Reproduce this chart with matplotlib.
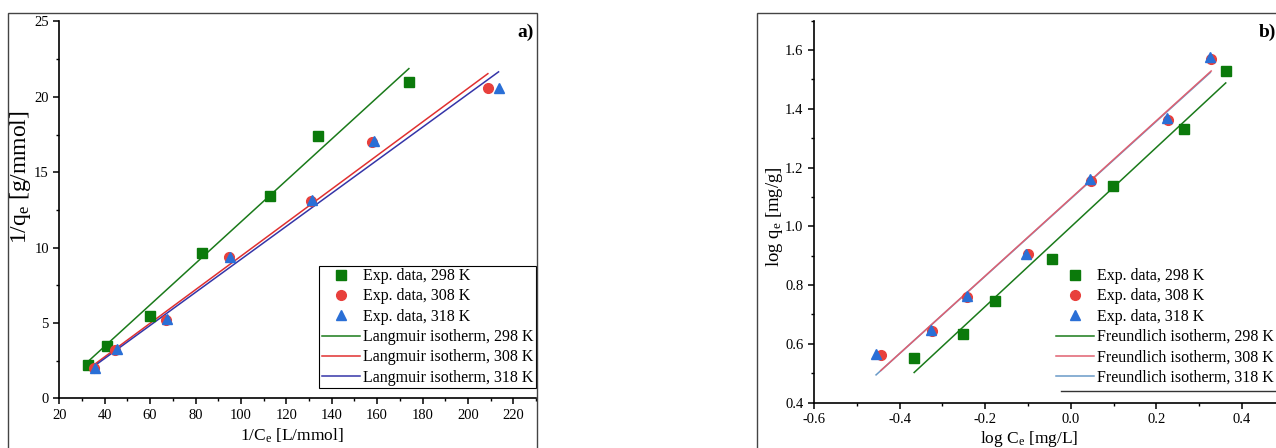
import matplotlib
matplotlib.use('Agg')
import matplotlib.pyplot as plt
import numpy as np
from matplotlib.patches import Rectangle
from matplotlib.ticker import MultipleLocator

plt.rcParams['font.family'] = ['Liberation Serif', 'DejaVu Serif']
plt.rcParams['mathtext.fontset'] = 'custom'
plt.rcParams['mathtext.rm'] = 'Liberation Serif'
plt.rcParams['mathtext.it'] = 'Liberation Serif'

temps = ['298 K', '308 K', '318 K']

# a) Langmuir: 1/Ce vs 1/qe
inv_ce_298 = [32.7, 40.9, 60.0, 83.0, 112.8, 133.8, 174.0]
inv_qe_298 = [2.21, 3.45, 5.44, 9.66, 13.44, 17.42, 20.98]
inv_ce_308 = [35.5, 44.7, 67.0, 94.7, 130.9, 157.7, 208.8]
inv_qe_308 = [1.99, 3.23, 5.19, 9.35, 13.10, 17.00, 20.56]
inv_ce_318 = [35.8, 45.2, 67.3, 95.0, 131.2, 158.8, 213.5]
inv_qe_318 = [2.00, 3.25, 5.25, 9.40, 13.15, 17.05, 20.60]
lang_slope = [0.1375, 0.1113, 0.1096]
lang_icept = [-2.05, -1.70, -1.74]

# b) Freundlich: log Ce vs log qe
log_ce_298 = [-0.366, -0.252, -0.178, -0.044, 0.098, 0.265, 0.362]
log_qe_298 = [0.552, 0.634, 0.745, 0.889, 1.137, 1.332, 1.528]
log_ce_308 = [-0.444, -0.324, -0.243, -0.100, 0.047, 0.228, 0.328]
log_qe_308 = [0.563, 0.644, 0.760, 0.905, 1.156, 1.363, 1.569]
log_ce_318 = [-0.455, -0.327, -0.243, -0.104, 0.045, 0.224, 0.326]
log_qe_318 = [0.567, 0.646, 0.762, 0.907, 1.162, 1.369, 1.578]
freu_slope = [1.354, 1.321, 1.318]
freu_icept = [0.998, 1.0955, 1.094]

mk_colors = ['#0b7a0b', '#e8403c', '#2a6fd6']
markers = ['s', 'o', '^']
mk_sizes = [6.5, 7, 7.5]
lang_colors = ['#1a7a1a', '#e03030', '#3535a8']
freu_colors = ['#1a7a1a', '#e06070', '#6a9ac8']

fig = plt.figure(figsize=(12.76, 4.48), dpi=100)
W, H = 1276, 448

# outer frames
fig.patches.append(Rectangle((7.5 / W, -0.1), (536.5 - 7.5) / W, 1.1 - 13.5 / H,
                             transform=fig.transFigure, fill=False,
                             edgecolor='#444444', linewidth=1.0))
fig.patches.append(Rectangle((756.5 / W, -0.1), 0.5, 1.1 - 13.5 / H,
                             transform=fig.transFigure, fill=False,
                             edgecolor='#444444', linewidth=1.0))

ax1 = fig.add_axes([59.3 / W, (H - 398.3) / H, (536 - 59.3) / W, (398.3 - 21.5) / H])
ax2 = fig.add_axes([814 / W, (H - 402.6) / H, (1276 - 814) / W, (402.6 - 20.7) / H])


def style(ax):
    for s in ['top', 'right']:
        ax.spines[s].set_visible(False)
    for s in ['left', 'bottom']:
        ax.spines[s].set_linewidth(1.2)
    ax.tick_params(which='major', direction='out', length=4.5, width=1.1,
                   labelsize=10.5, pad=3)
    ax.tick_params(which='minor', direction='out', length=2.5, width=1.0)


# panel a
xs1 = [inv_ce_298, inv_ce_308, inv_ce_318]
ys1 = [inv_qe_298, inv_qe_308, inv_qe_318]
for i in range(3):
    ax1.plot(xs1[i], ys1[i], linestyle='none', marker=markers[i], ms=mk_sizes[i],
             color=mk_colors[i], label='Exp. data, ' + temps[i], zorder=3)
for i in range(3):
    xx = np.array([min(xs1[i]), max(xs1[i])])
    ax1.plot(xx, lang_slope[i] * xx + lang_icept[i], color=lang_colors[i], lw=1.1,
             label='Langmuir isotherm, ' + temps[i], zorder=2)
ax1.set_xlim(20, 230)
ax1.set_ylim(0, 25)
ax1.xaxis.set_major_locator(MultipleLocator(20))
ax1.xaxis.set_minor_locator(MultipleLocator(10))
ax1.yaxis.set_major_locator(MultipleLocator(5))
ax1.yaxis.set_minor_locator(MultipleLocator(2.5))
style(ax1)
ax1.set_xlabel(r'1/C$_{\mathrm{e}}$ [L/mmol]', fontsize=12.5)
ax1.set_ylabel(r'1/q$_{\mathrm{e}}$ [g/mmol]', fontsize=17)
ax1.xaxis.set_label_coords(0.488, -0.075)
ax1.yaxis.set_label_coords(-0.055, 0.587)
ax1.text(0.995, 0.972, 'a)', transform=ax1.transAxes, ha='right', va='center',
         fontsize=14, fontweight='bold')
leg1 = ax1.legend(loc='lower right', bbox_to_anchor=(1.0, 0.027), fontsize=11.5,
                  frameon=True, fancybox=False, edgecolor='black', framealpha=1,
                  borderaxespad=0, borderpad=0.15, labelspacing=0.27,
                  handlelength=2.4, handletextpad=0.2)
leg1.get_frame().set_linewidth(0.8)

# panel b
xs2 = [log_ce_298, log_ce_308, log_ce_318]
ys2 = [log_qe_298, log_qe_308, log_qe_318]
for i in range(3):
    ax2.plot(xs2[i], ys2[i], linestyle='none', marker=markers[i], ms=mk_sizes[i],
             color=mk_colors[i], label='Exp. data, ' + temps[i], zorder=3)
for i in range(3):
    xx = np.array([min(xs2[i]), max(xs2[i])])
    ax2.plot(xx, freu_slope[i] * xx + freu_icept[i], color=freu_colors[i], lw=1.1,
             label='Freundlich isotherm, ' + temps[i], zorder=2 + (i == 1) * 0.5)
ax2.set_xlim(-0.6, -0.6 + (1276 - 814) / 428)
ax2.set_ylim(0.4, 1.7)
ax2.xaxis.set_major_locator(MultipleLocator(0.2))
ax2.xaxis.set_minor_locator(MultipleLocator(0.1))
ax2.yaxis.set_major_locator(MultipleLocator(0.2))
ax2.yaxis.set_minor_locator(MultipleLocator(0.1))
ax2.xaxis.set_major_formatter(lambda v, p: f'{v:.1f}'.replace('-0.0', '0.0'))
ax2.yaxis.set_major_formatter(lambda v, p: f'{v:.1f}')
style(ax2)
ax2.set_xlabel(r'log C$_{\mathrm{e}}$ [mg/L]', fontsize=12.5)
ax2.set_ylabel(r'log q$_{\mathrm{e}}$ [mg/g]', fontsize=13.5)
ax2.xaxis.set_label_coords(0.465, -0.07)
ax2.yaxis.set_label_coords(-0.062, 0.486)
ax2.text(0.963, 0.970, 'b)', transform=ax2.transAxes, ha='left', va='center',
         fontsize=14, fontweight='bold', clip_on=False)
ax2.legend(loc='lower left', bbox_to_anchor=(0.52, 0.04), fontsize=11.5,
           frameon=False, borderaxespad=0, borderpad=0.1, labelspacing=0.27,
           handlelength=2.4, handletextpad=0.2)
ax2.plot([0.535, 1.0], [0.03, 0.03], transform=ax2.transAxes, color='#333333',
         lw=1.0, clip_on=False)

fig.savefig('out.png', dpi=100)
